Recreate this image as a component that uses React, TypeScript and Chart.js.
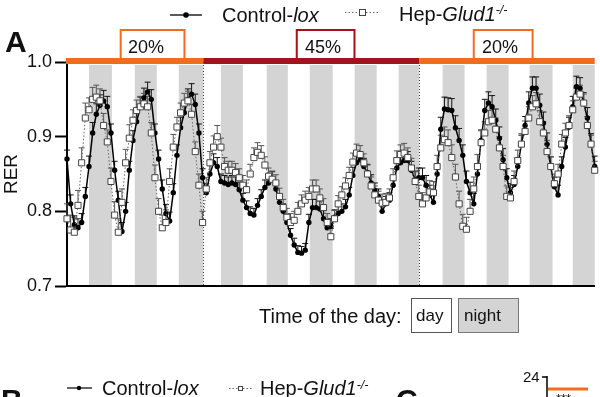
import React, { useEffect, useRef } from "react";
import { Chart, registerables } from "chart.js";

Chart.register(...registerables);

const FONT = '"Liberation Sans", Arial, Helvetica, sans-serif';
const ORANGE = "#f26c1f";
const DARK_RED = "#a3121d";
const NIGHT_GRAY = "#d4d4d4";

// time (hours from start of recording)
const hours = [
  0, 2, 4, 6, 8, 10, 12, 14, 16, 18, 20, 22, 24, 26, 28, 30, 32, 34, 36, 38,
  40, 42, 44, 46, 48, 50, 52, 54, 56, 58, 60, 62, 64, 66, 68, 70, 72, 74, 76, 78,
  80, 82, 84, 86, 88, 90, 92, 94, 96, 98, 100, 102, 104, 106, 108, 110, 112, 114, 116, 118,
  120, 122, 124, 126, 128, 130, 132, 134, 136, 138, 140, 142, 144, 146, 148, 150, 152, 154, 156, 158,
  160, 162, 164, 166, 168, 170, 172, 174, 176, 178, 180, 182, 184, 186, 188, 190, 192, 194, 196, 198,
  200, 202, 204, 206, 208, 210, 212, 214, 216, 218, 220, 222, 224, 226, 228, 230, 232, 234, 236, 238,
  240, 242, 244, 246, 248, 250, 252, 254, 256, 258, 260, 262, 264, 266, 268, 270, 272, 274, 276, 278,
  280, 282, 284, 286, 288,
];

// RER, Control-lox (mean)
const controlLox = [
  0.87, 0.81, 0.782, 0.778, 0.785, 0.82, 0.86, 0.905, 0.93, 0.942,
  0.948, 0.94, 0.905, 0.855, 0.815, 0.773, 0.8, 0.855, 0.895, 0.92,
  0.94, 0.952, 0.96, 0.95, 0.905, 0.87, 0.83, 0.797, 0.787, 0.825,
  0.875, 0.912, 0.932, 0.95, 0.957, 0.943, 0.905, 0.845, 0.825, 0.85,
  0.865, 0.86, 0.84, 0.838, 0.836, 0.838, 0.836, 0.829, 0.815, 0.805,
  0.797, 0.795, 0.808, 0.82, 0.832, 0.838, 0.843, 0.83, 0.812, 0.8,
  0.785, 0.768, 0.755, 0.745, 0.744, 0.748, 0.785, 0.805, 0.805, 0.803,
  0.79, 0.778, 0.78, 0.792, 0.797, 0.8, 0.806, 0.822, 0.848, 0.865,
  0.869, 0.86, 0.852, 0.838, 0.828, 0.82, 0.8, 0.81, 0.815, 0.835,
  0.858, 0.865, 0.868, 0.868, 0.855, 0.842, 0.845, 0.845, 0.835, 0.822,
  0.812, 0.85, 0.91, 0.937, 0.936, 0.935, 0.912, 0.895, 0.875, 0.84,
  0.825, 0.81, 0.85, 0.895, 0.935, 0.945, 0.94, 0.922, 0.898, 0.869,
  0.845, 0.825, 0.836, 0.86, 0.89, 0.915, 0.945, 0.965, 0.965, 0.942,
  0.918, 0.89, 0.86, 0.833, 0.822, 0.86, 0.886, 0.913, 0.94, 0.967,
  0.965, 0.945, 0.925, 0.89, 0.86,
];

// RER, Hep-Glud1-/- (mean)
const hepGlud1 = [
  0.79, 0.775, 0.772, 0.808, 0.865, 0.925, 0.936, 0.95, 0.953, 0.948,
  0.915, 0.893, 0.84, 0.795, 0.772, 0.812, 0.865, 0.898, 0.922, 0.935,
  0.94, 0.944, 0.94, 0.905, 0.845, 0.8, 0.778, 0.785, 0.84, 0.886,
  0.913, 0.932, 0.945, 0.948, 0.93, 0.88, 0.835, 0.785, 0.83, 0.865,
  0.886, 0.9, 0.886, 0.86, 0.855, 0.855, 0.852, 0.845, 0.835, 0.829,
  0.85, 0.872, 0.879, 0.875, 0.862, 0.847, 0.843, 0.838, 0.82, 0.805,
  0.792, 0.785, 0.788, 0.8, 0.81, 0.815, 0.82, 0.83, 0.83, 0.818,
  0.805, 0.785, 0.766, 0.79, 0.81, 0.822, 0.834, 0.848, 0.866, 0.878,
  0.876, 0.865, 0.85, 0.834, 0.822, 0.815, 0.811, 0.812, 0.818, 0.845,
  0.868, 0.876, 0.878, 0.872, 0.858, 0.84, 0.82, 0.81, 0.818, 0.826,
  0.825, 0.86, 0.885, 0.896, 0.892, 0.872, 0.846, 0.81, 0.78, 0.776,
  0.8, 0.83, 0.86, 0.892, 0.905, 0.92, 0.922, 0.91, 0.885, 0.86,
  0.82, 0.818, 0.84, 0.868, 0.89, 0.907, 0.925, 0.94, 0.944, 0.92,
  0.905, 0.88, 0.86, 0.837, 0.85, 0.89, 0.905, 0.915, 0.936, 0.953,
  0.957, 0.945, 0.915, 0.89, 0.855,
];

// SEM per 12-hour block
const semControl = [
  0.012, 0.014, 0.012, 0.013, 0.012, 0.014, 0.012, 0.01, 0.009, 0.01, 0.009, 0.011,
  0.01, 0.011, 0.01, 0.012, 0.013, 0.016, 0.014, 0.015, 0.012, 0.015, 0.013, 0.014,
];
const semHep = [
  0.02, 0.016, 0.018, 0.014, 0.017, 0.013, 0.015, 0.012, 0.013, 0.011, 0.012, 0.012,
  0.011, 0.012, 0.012, 0.013, 0.015, 0.017, 0.016, 0.015, 0.014, 0.015, 0.013, 0.012,
];

// dark phases (hours)
const nightStart = [12, 37, 61, 84, 109, 132.5, 157, 181, 205, 229, 252.5, 276];
const nightEnd = [24.5, 49, 74.4, 96, 120.5, 145, 169, 192.2, 217, 241, 265, 288];

// diet phases (hours) and protein content labels
const phaseStart = [0, 74.4, 192.2];
const phaseEnd = [74.4, 192.2, 288];
const phaseLabels = ["20%", "45%", "20%"];

const yTicks = [0.7, 0.8, 0.9, 1.0];

function drawErr(ctx: any, xs: any, ys: any, vals: number[], sems: number[], color: string) {
  ctx.strokeStyle = color;
  ctx.lineWidth = 1;
  for (let i = 0; i < hours.length; i++) {
    const h = hours[i];
    const idx = Math.min(sems.length - 1, Math.floor(h / 12));
    const px = xs.getPixelForValue(h);
    const y0 = ys.getPixelForValue(vals[i]);
    const y1 = ys.getPixelForValue(vals[i] + sems[idx]);
    ctx.beginPath();
    ctx.moveTo(px, y0);
    ctx.lineTo(px, y1);
    ctx.moveTo(px - 3, y1);
    ctx.lineTo(px + 3, y1);
    ctx.stroke();
  }
}

const decorPlugin = {
  id: "decor",
  beforeDraw(chart: any) {
    const { ctx, chartArea, scales } = chart;
    const xs = scales.x;
    const { top, bottom } = chartArea;
    ctx.save();
    ctx.fillStyle = NIGHT_GRAY;
    for (let i = 0; i < nightStart.length; i++) {
      const a = xs.getPixelForValue(nightStart[i]);
      const b = xs.getPixelForValue(nightEnd[i]);
      ctx.fillRect(a, top + 3, b - a, bottom - top - 3);
    }
    ctx.strokeStyle = "#444";
    ctx.lineWidth = 1;
    ctx.setLineDash([1, 2]);
    for (let i = 1; i < phaseStart.length; i++) {
      const px = Math.round(xs.getPixelForValue(phaseStart[i])) + 0.5;
      ctx.beginPath();
      ctx.moveTo(px, top);
      ctx.lineTo(px, bottom);
      ctx.stroke();
    }
    ctx.restore();
  },
  beforeDatasetsDraw(chart: any) {
    const { ctx, scales } = chart;
    ctx.save();
    drawErr(ctx, scales.x, scales.y, controlLox, semControl, "#111");
    drawErr(ctx, scales.x, scales.y, hepGlud1, semHep, "#555");
    ctx.restore();
  },
  afterDraw(chart: any) {
    const { ctx, chartArea, scales } = chart;
    const xs = scales.x;
    const top = chartArea.top;
    const phaseColors = [ORANGE, DARK_RED, ORANGE];
    const boxFrom = [29.3, 125.4, 222];
    const boxTo = [64.1, 156.9, 254.1];
    ctx.save();
    // diet bar
    for (let i = 0; i < phaseStart.length; i++) {
      const a = xs.getPixelForValue(phaseStart[i]) - (i === 0 ? 1 : 0);
      const b = xs.getPixelForValue(phaseEnd[i]);
      ctx.fillStyle = phaseColors[i];
      ctx.fillRect(a, top - 4, b - a, 6);
    }
    // diet label boxes
    for (let i = 0; i < phaseStart.length; i++) {
      const a = xs.getPixelForValue(boxFrom[i]);
      const b = xs.getPixelForValue(boxTo[i]);
      ctx.fillStyle = "#fff";
      ctx.fillRect(a, 30, b - a, top - 34);
      ctx.strokeStyle = phaseColors[i];
      ctx.lineWidth = 2;
      ctx.beginPath();
      ctx.moveTo(a, top - 3);
      ctx.lineTo(a, 30);
      ctx.lineTo(b, 30);
      ctx.lineTo(b, top - 3);
      ctx.stroke();
    }
    // top legend symbols
    ctx.strokeStyle = "#000";
    ctx.lineWidth = 1.3;
    ctx.beginPath();
    ctx.moveTo(170, 15);
    ctx.lineTo(202, 15);
    ctx.stroke();
    ctx.fillStyle = "#000";
    ctx.beginPath();
    ctx.arc(186, 15, 2.8, 0, Math.PI * 2);
    ctx.fill();
    ctx.strokeStyle = "#666";
    ctx.lineWidth = 1;
    ctx.setLineDash([1.5, 2]);
    ctx.beginPath();
    ctx.moveTo(345, 12.5);
    ctx.lineTo(380, 12.5);
    ctx.stroke();
    ctx.setLineDash([]);
    ctx.fillStyle = "#fff";
    ctx.fillRect(359, 9, 7, 7);
    ctx.strokeStyle = "#444";
    ctx.strokeRect(359.5, 9.5, 6, 6);
    // time-of-day key
    ctx.fillStyle = "#fff";
    ctx.fillRect(411, 298, 40, 34);
    ctx.strokeStyle = "#555";
    ctx.strokeRect(411.5, 298.5, 40, 34);
    ctx.fillStyle = NIGHT_GRAY;
    ctx.fillRect(458, 298, 60, 34);
    ctx.strokeStyle = "#777";
    ctx.strokeRect(458.5, 298.5, 60, 34);
    // next panels (cropped)
    ctx.strokeStyle = "#000";
    ctx.lineWidth = 1.2;
    ctx.beginPath();
    ctx.moveTo(67, 388);
    ctx.lineTo(92, 388);
    ctx.stroke();
    ctx.fillStyle = "#000";
    ctx.beginPath();
    ctx.arc(79, 388, 2.2, 0, Math.PI * 2);
    ctx.fill();
    ctx.strokeStyle = "#666";
    ctx.lineWidth = 1;
    ctx.setLineDash([1.5, 2]);
    ctx.beginPath();
    ctx.moveTo(229, 388.5);
    ctx.lineTo(252, 388.5);
    ctx.stroke();
    ctx.setLineDash([]);
    ctx.fillStyle = "#fff";
    ctx.fillRect(238, 386, 5, 5);
    ctx.strokeStyle = "#444";
    ctx.strokeRect(238.5, 386.5, 4, 4);
    ctx.strokeStyle = "#000";
    ctx.lineWidth = 1.5;
    ctx.beginPath();
    ctx.moveTo(542, 377);
    ctx.lineTo(547, 377);
    ctx.moveTo(547, 376);
    ctx.lineTo(547, 397);
    ctx.stroke();
    ctx.fillStyle = ORANGE;
    ctx.fillRect(548, 387.5, 40, 3);
    ctx.restore();
  },
};

function Txt(props: {
  x: number;
  baseline: number;
  size: number;
  bold?: boolean;
  children: React.ReactNode;
}) {
  const { x, baseline, size, bold, children } = props;
  return (
    <div
      style={{
        position: "absolute",
        left: x,
        top: baseline - 0.8465 * size,
        fontSize: size,
        lineHeight: 1,
        fontWeight: bold ? "bold" : "normal",
        whiteSpace: "nowrap",
        color: "#111",
      }}
    >
      {children}
    </div>
  );
}

const supStyle: React.CSSProperties = {
  position: "relative",
  top: "-0.5em",
  fontSize: "0.62em",
  fontStyle: "italic",
};

export default function App() {
  const canvasRef = useRef<HTMLCanvasElement | null>(null);

  useEffect(() => {
    const canvas = canvasRef.current;
    if (!canvas) return;
    const chart = new Chart(canvas, {
      type: "line",
      data: {
        datasets: [
          {
            label: "Hep-Glud1-/-",
            data: hours.map((h, i) => ({ x: h, y: hepGlud1[i] })),
            borderColor: "#666",
            borderWidth: 1,
            borderDash: [1.5, 2],
            pointStyle: "rect",
            pointRadius: 4.3,
            pointBackgroundColor: "#fff",
            pointBorderColor: "#444",
            pointBorderWidth: 1,
            tension: 0,
            clip: false,
          } as any,
          {
            label: "Control-lox",
            data: hours.map((h, i) => ({ x: h, y: controlLox[i] })),
            borderColor: "#000",
            borderWidth: 1.5,
            pointStyle: "circle",
            pointRadius: 2.7,
            pointBackgroundColor: "#000",
            pointBorderColor: "#000",
            pointBorderWidth: 0,
            tension: 0,
            clip: false,
          } as any,
        ],
      },
      options: {
        responsive: false,
        animation: false,
        devicePixelRatio: 1,
        layout: { padding: { top: 62, right: 2, left: 0, bottom: 0 } },
        plugins: { legend: { display: false }, tooltip: { enabled: false } },
        scales: {
          x: {
            type: "linear",
            min: 0,
            max: 288,
            ticks: { display: false },
            grid: { display: false },
            border: { display: true, color: "#000", width: 2 },
            afterFit: (s: any) => {
              s.height = 111;
            },
          },
          y: {
            min: 0.7,
            max: 1.0,
            afterBuildTicks: (s: any) => {
              s.ticks = yTicks.map((v) => ({ value: v }));
            },
            ticks: {
              font: { family: FONT, size: 18 },
              color: "#111",
              padding: 3,
              callback: (v: any) => Number(v).toFixed(1),
            },
            grid: {
              drawOnChartArea: false,
              drawTicks: true,
              tickLength: 12,
              tickColor: "#000",
              tickWidth: 2,
              color: "#000",
            },
            border: { display: true, color: "#000", width: 2 },
            title: {
              display: true,
              text: "RER",
              font: { family: FONT, size: 19 },
              color: "#111",
              padding: 0,
            },
            afterFit: (s: any) => {
              s.width = 67;
            },
          },
        },
      } as any,
      plugins: [decorPlugin],
    });
    return () => chart.destroy();
  }, []);

  return (
    <div
      style={{
        position: "fixed",
        left: 0,
        top: 0,
        width: 600,
        height: 397,
        overflow: "hidden",
        background: "#fff",
        fontFamily: FONT,
      }}
    >
      <canvas
        ref={canvasRef}
        width={600}
        height={397}
        style={{ position: "absolute", left: 0, top: 0, width: 600, height: 397 }}
      />
      <Txt x={5} baseline={52} size={30} bold>A</Txt>
      <Txt x={222} baseline={21.5} size={20}>
        Control-<i>lox</i>
      </Txt>
      <Txt x={399} baseline={20.5} size={20}>
        Hep-<i>Glud1</i>
        <span style={supStyle}>-/-</span>
      </Txt>
      {phaseLabels.map((lab, i) => (
        <Txt key={i} x={[128, 305, 482][i]} baseline={53} size={18}>
          {lab}
        </Txt>
      ))}
      <Txt x={259} baseline={323} size={20}>Time of the day:</Txt>
      <Txt x={416} baseline={321} size={17}>day</Txt>
      <Txt x={464} baseline={321} size={17}>night</Txt>
      <Txt x={1} baseline={410} size={30} bold>B</Txt>
      <Txt x={102} baseline={395} size={20}>
        Control-<i>lox</i>
      </Txt>
      <Txt x={260} baseline={395} size={20}>
        Hep-<i>Glud1</i>
        <span style={supStyle}>-/-</span>
      </Txt>
      <Txt x={396} baseline={410} size={30} bold>C</Txt>
      <Txt x={523} baseline={382} size={15}>24</Txt>
      <Txt x={556} baseline={403} size={13}>***</Txt>
    </div>
  );
}
